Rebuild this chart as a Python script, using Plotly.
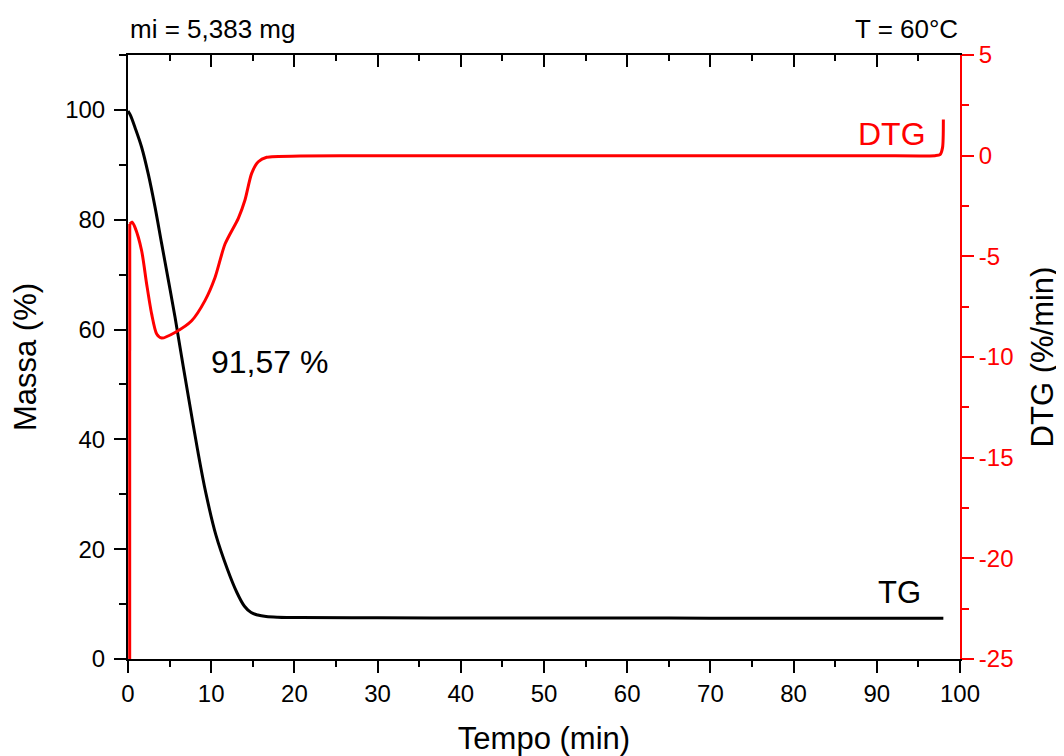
import plotly.graph_objects as go

# TG data (time in min, mass in %)
tg_time = [0.0, 0.3, 0.84, 1.64, 2.44, 3.25, 4.05, 4.85, 5.65, 6.45, 7.3, 8.35, 9.36, 10.56, 11.96,
           13.06, 14.0, 14.8, 15.6, 16.6, 18.0, 20.7, 30, 40, 50, 60, 70, 80, 90, 98.0]
tg_mass = [99.8, 99.0, 96.8, 93.2, 88.3, 82.3, 75.6, 69.0, 62.3, 55.0, 47.4, 38.2, 30.2, 22.6, 16.3,
           12.2, 9.6, 8.45, 8.0, 7.75, 7.62, 7.54, 7.5, 7.48, 7.46, 7.45, 7.44, 7.43, 7.42, 7.4]

# DTG data (time in min, %/min)
dtg_time = [0.2, 0.21, 0.5, 0.84, 1.64, 2.24, 2.84, 3.45, 4.05, 5.65, 7.65, 9.25, 10.46, 11.66,
            13.26, 14.06, 14.86, 15.66, 16.67, 20.7, 30, 40, 50, 60, 70, 80, 90, 97.0, 97.6, 97.9, 98.0]
dtg_vals = [-25.0, -3.4, -3.3, -3.56, -4.72, -6.37, -7.86, -8.86, -9.06, -8.78, -8.2, -7.2, -6.05, -4.39,
            -3.11, -2.2, -0.88, -0.30, -0.08, -0.02, 0.0, 0.0, 0.0, 0.0, 0.0, 0.0, 0.0, 0.0, 0.05, 0.4, 1.8]

# Right-axis tick labels (hyphen minus, as in the original)
dtg_tickvals = [5, 0, -5, -10, -15, -20, -25]
dtg_ticktext = ["5", "0", "-5", "-10", "-15", "-20", "-25"]

FONT = "Liberation Sans, Arial, sans-serif"

fig = go.Figure()
fig.add_trace(go.Scatter(x=tg_time, y=tg_mass, mode="lines",
                         line=dict(color="black", width=3, shape="spline", smoothing=1.0),
                         xaxis="x", yaxis="y", showlegend=False))
# DTG: the initial vertical jump drawn straight, the rest smoothed
fig.add_trace(go.Scatter(x=dtg_time[:2], y=dtg_vals[:2], mode="lines",
                         line=dict(color="red", width=3),
                         xaxis="x", yaxis="y2", showlegend=False))
fig.add_trace(go.Scatter(x=dtg_time[1:], y=dtg_vals[1:], mode="lines",
                         line=dict(color="red", width=3, shape="spline", smoothing=0.7),
                         xaxis="x", yaxis="y2", showlegend=False))
# dummy trace to activate the top mirror axis
fig.add_trace(go.Scatter(x=[None], y=[None], xaxis="x2", yaxis="y", showlegend=False, hoverinfo="skip"))

fig.update_layout(
    width=1056, height=748,
    margin=dict(l=120, r=104, t=47, b=97, autoexpand=False),
    paper_bgcolor="white", plot_bgcolor="white",
    font=dict(family=FONT, size=24, color="black"),
    xaxis=dict(range=[0, 100], dtick=10, tick0=0, showgrid=False, zeroline=False,
               showline=True, linecolor="black", linewidth=2,
               ticks="outside", ticklen=12, tickwidth=2, tickcolor="black",
               minor=dict(dtick=5, ticks="outside", ticklen=6, tickwidth=2, tickcolor="black"),
               title=dict(text="Tempo (min)", font=dict(size=31), standoff=24),
               tickfont=dict(size=24)),
    xaxis2=dict(range=[0, 100], overlaying="x", side="top", dtick=10, tick0=0, showgrid=False, zeroline=False,
                showline=True, linecolor="black", linewidth=2,
                ticks="inside", ticklen=12, tickwidth=2, tickcolor="black", showticklabels=False,
                minor=dict(dtick=5, ticks="inside", ticklen=6, tickwidth=2, tickcolor="black")),
    yaxis=dict(range=[0, 110], dtick=20, tick0=0, showgrid=False, zeroline=False,
               showline=True, linecolor="black", linewidth=2,
               ticks="outside", ticklen=12, tickwidth=2, tickcolor="black",
               minor=dict(dtick=10, ticks="outside", ticklen=7, tickwidth=2, tickcolor="black"),
               ticklabelstandoff=4,
               title=dict(text="Massa (%)", font=dict(size=31), standoff=22),
               tickfont=dict(size=24)),
    yaxis2=dict(range=[-25, 5], tickvals=dtg_tickvals, ticktext=dtg_ticktext,
                overlaying="y", side="right", anchor="x",
                showgrid=False, zeroline=False,
                showline=True, linecolor="red", linewidth=2,
                ticks="outside", ticklen=12, tickwidth=2, tickcolor="red",
                minor=dict(dtick=2.5, ticks="outside", ticklen=7, tickwidth=2, tickcolor="red"),
                tickfont=dict(size=24, color="red"),
                title=dict(text="DTG (%/min)", font=dict(size=31, color="black"), standoff=19)),
)

fig.add_annotation(text="mi = 5,383 mg", xref="paper", yref="paper", x=0.0, y=1.0, xanchor="left", yanchor="bottom",
                   xshift=0, yshift=9, showarrow=False, font=dict(size=26, color="black"))
fig.add_annotation(text="T = 60°C", xref="paper", yref="paper", x=1.0, y=1.0, xanchor="right", yanchor="bottom",
                   yshift=9, showarrow=False, font=dict(size=26, color="black"))
fig.add_annotation(text="DTG", xref="x", yref="y2", x=96.1, y=1.09, xanchor="right", yanchor="middle",
                   showarrow=False, font=dict(size=32, color="red"))
fig.add_annotation(text="TG", xref="x", yref="y", x=95.6, y=12.2, xanchor="right", yanchor="middle",
                   showarrow=False, font=dict(size=31, color="black"))
fig.add_annotation(text="91,57 %", xref="x", yref="y", x=9.74, y=54.1, xanchor="left", yanchor="middle",
                   showarrow=False, font=dict(size=32, color="black"))

fig.write_html("out.html")
